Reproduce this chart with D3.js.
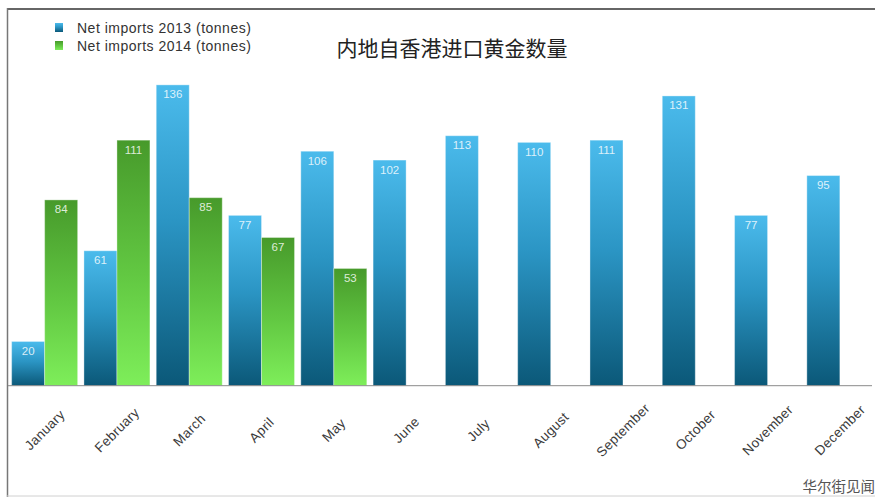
<!DOCTYPE html>
<html>
<head>
<meta charset="utf-8">
<script src="https://cdn.jsdelivr.net/npm/d3@7/dist/d3.min.js"></script>
<style>
  html, body { margin: 0; padding: 0; background: #fff; }
  svg { display: block; }
</style>
</head>
<body>
<svg id="chart" width="875" height="497"></svg>
<script>
// Monthly net gold imports into mainland China from Hong Kong (tonnes)
const months = ["January", "February", "March", "April", "May", "June",
  "July", "August", "September", "October", "November", "December"];
const imports2013 = [20, 61, 136, 77, 106, 102, 113, 110, 111, 131, 77, 95];
const imports2014 = [84, 111, 85, 67, 53];
const seriesNames = ["Net imports 2013 (tonnes)", "Net imports 2014 (tonnes)"];
const titleText = "内地自香港进口黄金数量";
const sourceText = "华尔街见闻";

const W = 875, H = 497;
const baseY = 385.7;
const svg = d3.select("#chart");

// gradients: blue runs light to dark, green dark to light (top to bottom)
const defs = svg.append("defs");
const gradStops = {
  g2013: [["0%", "#4bbbec"], ["45%", "#2b95c4"], ["100%", "#0b5878"]],
  g2014: [["0%", "#479a2b"], ["55%", "#62c842"], ["100%", "#7eee5a"]]
};
Object.entries(gradStops).forEach(([id, stops]) => {
  const g = defs.append("linearGradient").attr("id", id)
    .attr("x1", 0).attr("y1", 0).attr("x2", 0).attr("y2", 1);
  stops.forEach(([o, c]) => g.append("stop").attr("offset", o).attr("stop-color", c));
});

// frame
svg.append("line").attr("x1", 7).attr("x2", W).attr("y1", 9).attr("y2", 9)
  .attr("stroke", "#666").attr("stroke-width", 2);
svg.append("line").attr("x1", 7.5).attr("x2", 7.5).attr("y1", 8).attr("y2", H)
  .attr("stroke", "#777").attr("stroke-width", 1.5);
svg.append("line").attr("x1", 7).attr("x2", W).attr("y1", 496).attr("y2", 496)
  .attr("stroke", "#d0d0d0").attr("stroke-width", 1);

// scales
const x = d3.scaleBand().domain(months).range([8.5, 876])
  .paddingInner(0.087).paddingOuter(0.0435);
const xs = d3.scaleBand().domain(["2013", "2014"]).range([0, x.bandwidth()]);
const y = d3.scaleLinear().domain([0, 150]).range([baseY, baseY - 150 * 2.212]);

const rows = [];
months.forEach((m, i) => {
  rows.push({ month: m, key: "2013", value: imports2013[i] });
  if (imports2014[i] != null) rows.push({ month: m, key: "2014", value: imports2014[i] });
});

const bars = svg.append("g");
bars.selectAll("rect").data(rows).join("rect")
  .attr("x", d => x(d.month) + xs(d.key))
  .attr("y", d => y(d.value))
  .attr("width", xs.bandwidth())
  .attr("height", d => y(0) - y(d.value))
  .attr("fill", d => `url(#g${d.key})`)
  .attr("stroke", "rgba(255,255,255,0.35)")
  .attr("stroke-width", 1);

bars.selectAll("text").data(rows).join("text")
  .attr("x", d => x(d.month) + xs(d.key) + xs.bandwidth() / 2)
  .attr("y", d => y(d.value) + 13.5)
  .attr("text-anchor", "middle")
  .attr("font-family", "Liberation Sans, Arial, sans-serif")
  .attr("font-size", 11.5)
  .attr("fill", "rgba(255,255,255,0.82)")
  .text(d => d.value);

// category axis
const axis = svg.append("g").attr("transform", `translate(0,${baseY})`)
  .call(d3.axisBottom(x).tickSize(0).tickSizeOuter(0));
axis.select(".domain").attr("stroke", "#8a8a8a").attr("d", `M8,0H872`);
axis.selectAll(".tick text")
  .attr("x", 0).attr("y", 0).attr("dy", "0.35em")
  .attr("transform", "translate(0,44.3) rotate(-45)")
  .attr("text-anchor", "middle")
  .attr("font-family", "Liberation Sans, Arial, sans-serif")
  .attr("font-size", 13.5)
  .attr("letter-spacing", 0.3)
  .attr("fill", "#3a3a3a");

// legend
const legend = svg.append("g");
seriesNames.forEach((name, i) => {
  legend.append("rect").attr("x", 55).attr("y", 23 + i * 18)
    .attr("width", 8).attr("height", 9)
    .attr("fill", i === 0 ? "url(#g2013)" : "url(#g2014)");
  legend.append("text").attr("x", 77).attr("y", 33 + i * 18)
    .attr("font-family", "Liberation Sans, Arial, sans-serif")
    .attr("font-size", 14).attr("letter-spacing", 0.5)
    .attr("fill", "#333").text(name);
});

// title
svg.append("text").attr("x", 452).attr("y", 56)
  .attr("text-anchor", "middle")
  .attr("font-family", "Noto Sans CJK SC, sans-serif")
  .attr("font-size", 21).attr("fill", "#222")
  .text(titleText);

// source
svg.append("text").attr("x", 875).attr("y", 492)
  .attr("text-anchor", "end")
  .attr("font-family", "Noto Sans CJK SC, sans-serif")
  .attr("font-size", 14.5).attr("fill", "#555")
  .text(sourceText);
</script>
</body>
</html>
